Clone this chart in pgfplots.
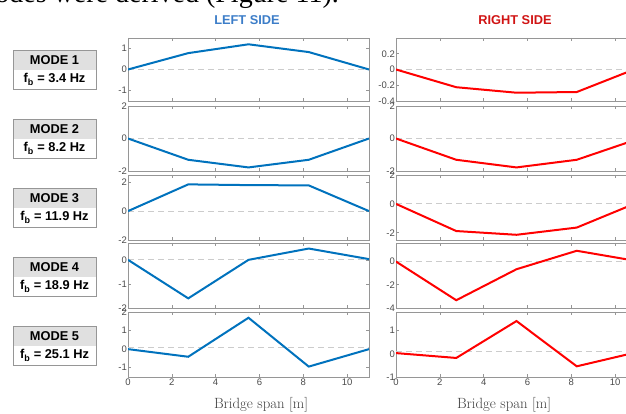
\documentclass[border=0pt]{standalone}
\usepackage{fontspec}
\setmainfont{Liberation Sans}
\newfontfamily\bodyserif{Liberation Serif}
\newfontfamily\lmserif{Latin Modern Roman}
\usepackage{pgfplots}
\pgfplotsset{compat=1.18}

\definecolor{lineblue}{HTML}{0072BD}
\definecolor{linered}{HTML}{FF0000}
\definecolor{titleblue}{HTML}{3C7DC8}
\definecolor{titlered}{HTML}{D01414}
\definecolor{axgray}{HTML}{969696}
\definecolor{labgray}{HTML}{4A4A4A}
\definecolor{zerogray}{HTML}{CCCCCC}
\definecolor{boxgray}{HTML}{E0E0E0}

\pgfplotsset{
  panel/.style={
    scale only axis, width=241pt, anchor=south west,
    xmin=0, xmax=11, xtick={0,2,...,10},
    axis line style={draw=axgray, line width=0.7pt},
    tick style={draw=axgray, line width=0.6pt},
    major tick length=3pt, tick align=inside,
    xtick pos=both, ytick pos=both,
    ticklabel style={font=\fontsize{9.5}{10}\selectfont, text=labgray},
    yticklabel style={inner sep=1pt, /pgf/number format/fixed},
    xticklabel style={inner sep=2pt},
    scaled y ticks=false,
    /pgf/number format/assume math mode=true,
  },
  nox/.style={xticklabels={}},
  zero/.style={draw=zerogray, dash pattern=on 6pt off 4pt, line width=1pt},
  lft/.style={draw=lineblue, line width=2pt},
  rgt/.style={draw=linered, line width=2pt},
}

\newcommand{\modebox}[3]{%
  \fill[boxgray] (13pt,#1pt) rectangle (96pt,#1pt-20pt);
  \draw[axgray, line width=0.8pt] (13pt,#1pt) rectangle (96pt,#1pt-39pt);
  \node[font=\bfseries\fontsize{12.8}{14}\selectfont] at (54.5pt,#1pt-10pt) {MODE #2};
  \node[font=\bfseries\fontsize{12.8}{14}\selectfont] at (54.5pt,#1pt-29.5pt) {f\textsubscript{b} = #3 Hz};
}

\begin{document}
\begin{tikzpicture}
\useasboundingbox (0,0) rectangle (626pt,414pt);
\clip (0,0) rectangle (626pt,414pt);

% cut-off line of body text above the figure
\node[anchor=base east, font=\bodyserif\fontsize{28}{30}\selectfont, inner sep=0pt]
  at (339pt,411pt) {modes were derived (Figure 11).};

\node[font=\bfseries\fontsize{12.8}{14}\selectfont, text=titleblue] at (247pt,393.5pt) {LEFT SIDE};
\node[font=\bfseries\fontsize{12.8}{14}\selectfont, text=titlered] at (515pt,393.5pt) {RIGHT SIDE};

% mode boxes (tops measured from the top edge: 50,119,188,257,326)
\modebox{364}{1}{3.4}
\modebox{295}{2}{8.2}
\modebox{226}{3}{11.9}
\modebox{157}{4}{18.9}
\modebox{88}{5}{25.1}

% ---------------- left side ----------------
\begin{axis}[panel, nox, at={(128pt,313pt)}, height=63pt,
  ymin=-1.5, ymax=1.5, ytick={-1,0,1}]
  \addplot[zero] coordinates {(0,0) (11,0)};
  \addplot[lft] coordinates {(0,0) (2.75,0.78) (5.5,1.2) (8.25,0.83) (11,0)};
\end{axis}
\begin{axis}[panel, nox, at={(128pt,243pt)}, height=65pt,
  ymin=-2, ymax=2, ytick={-2,0,2}]
  \addplot[zero] coordinates {(0,0) (11,0)};
  \addplot[lft] coordinates {(0,0) (2.75,-1.31) (5.5,-1.78) (8.25,-1.31) (11,0)};
\end{axis}
\begin{axis}[panel, nox, at={(128pt,174pt)}, height=65pt,
  ymin=-2, ymax=2.5, ytick={-2,0,2}]
  \addplot[zero] coordinates {(0,0) (11,0)};
  \addplot[lft] coordinates {(0,0) (2.75,1.85) (5.5,1.8) (8.25,1.78) (11,0)};
\end{axis}
\begin{axis}[panel, nox, at={(128pt,106pt)}, height=65pt,
  ymin=-2, ymax=0.7, ytick={-2,-1,0}]
  \addplot[zero] coordinates {(0,0) (11,0)};
  \addplot[lft] coordinates {(0,0) (2.75,-1.6) (5.5,0) (8.25,0.47) (11,0.03)};
\end{axis}
\begin{axis}[panel, at={(128pt,37pt)}, height=65pt,
  ymin=-1.5, ymax=2, ytick={-1,0,1,2}]
  \addplot[zero] coordinates {(0,0.1) (11,0.1)};
  \addplot[lft] coordinates {(0,0) (2.75,-0.41) (5.5,1.69) (8.25,-0.94) (11,0)};
\end{axis}

% ---------------- right side ----------------
\begin{axis}[panel, nox, at={(396pt,313pt)}, height=63pt,
  ymin=-0.4, ymax=0.4, ytick={-0.4,-0.2,0,0.2}]
  \addplot[zero] coordinates {(0,0) (11,0)};
  \addplot[rgt] coordinates {(0,0) (2.75,-0.225) (5.5,-0.295) (8.25,-0.286) (11,0.015)};
\end{axis}
\begin{axis}[panel, nox, at={(396pt,243pt)}, height=65pt,
  ymin=-2, ymax=2, ytick={-2,0,2}]
  \addplot[zero] coordinates {(0,0) (11,0)};
  \addplot[rgt] coordinates {(0,0) (2.75,-1.31) (5.5,-1.78) (8.25,-1.31) (11,-0.05)};
\end{axis}
\begin{axis}[panel, nox, at={(396pt,174pt)}, height=65pt,
  ymin=-2.5, ymax=2, ytick={-2,0,2}]
  \addplot[zero] coordinates {(0,0) (11,0)};
  \addplot[rgt] coordinates {(0,0) (2.75,-1.88) (5.5,-2.14) (8.25,-1.64) (11,0.08)};
\end{axis}
\begin{axis}[panel, nox, at={(396pt,106pt)}, height=65pt,
  ymin=-4, ymax=1.6, ytick={-4,-2,0}]
  \addplot[zero] coordinates {(0,0) (11,0)};
  \addplot[rgt] coordinates {(0,0) (2.75,-3.33) (5.5,-0.66) (8.25,0.93) (11,0.04)};
\end{axis}
\begin{axis}[panel, at={(396pt,37pt)}, height=65pt,
  ymin=-1, ymax=1.8, ytick={-1,0,1}]
  \addplot[zero] coordinates {(0,0.1) (11,0.1)};
  \addplot[rgt] coordinates {(0,0.03) (2.75,-0.18) (5.5,1.41) (8.25,-0.54) (11,0.07)};
\end{axis}

\node[anchor=base, font=\lmserif\fontsize{14.8}{16}\selectfont, text=black!75] at (261pt,5pt) {Bridge span [m]};
\node[anchor=base, font=\lmserif\fontsize{14.8}{16}\selectfont, text=black!75] at (504pt,5pt) {Bridge span [m]};
\end{tikzpicture}
\end{document}
